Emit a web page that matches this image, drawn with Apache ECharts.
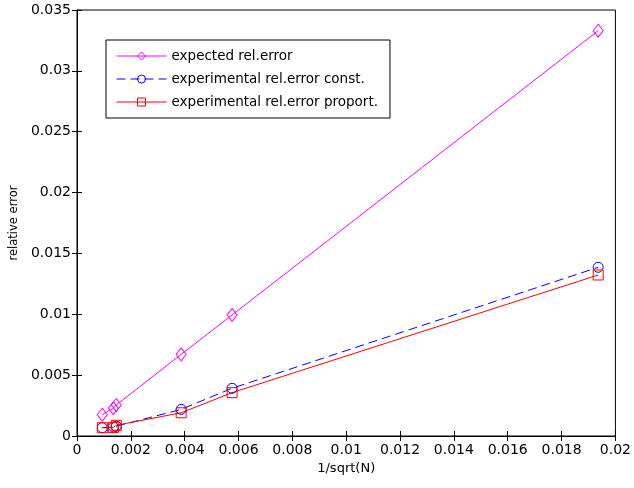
<!DOCTYPE html>
<html>
<head>
<meta charset="utf-8">
<script src="https://cdn.jsdelivr.net/npm/echarts@6/dist/echarts.min.js"></script>
<style>
html,body{margin:0;padding:0;background:#fff;}
#chart{width:634px;height:488px;}
</style>
</head>
<body>
<div id="chart"></div>
<script>
const seriesNames = ['expected rel.error', 'experimental rel.error const.', 'experimental rel.error proport.'];
const seriesColors = ['#ff00ff', '#0000ff', '#ff0000'];
const xValues = [0.00094, 0.00135, 0.00146, 0.00387, 0.00576, 0.01936];
const expectedErr = [0.00175, 0.00228, 0.00255, 0.00671, 0.00994, 0.0333];
const constErr = [0.00068, 0.00074, 0.0008, 0.00219, 0.00392, 0.01386];
const proportErr = [0.00068, 0.0007, 0.00088, 0.00191, 0.00356, 0.01323];

const pairs = ys => xValues.map((x, i) => [x, ys[i]]);
const font = '"DejaVu Sans", sans-serif';
const clear = 'rgba(0,0,0,0)';

const chart = echarts.init(document.getElementById('chart'));
const axisCommon = {
  axisLine: {show: true, lineStyle: {color: '#000', width: 1}},
  axisTick: {show: true, inside: true, length: 5, lineStyle: {color: '#000'}},
  splitLine: {show: false},
  axisLabel: {color: '#000', fontSize: 14, fontFamily: font}
};
chart.setOption({
  animation: false,
  backgroundColor: '#fff',
  grid: {left: 77, right: 16, top: 10, bottom: 52, show: true, backgroundColor: '#fff', borderColor: '#000', borderWidth: 1},
  legend: {
    orient: 'vertical', left: 106, top: 40,
    itemWidth: 50, itemHeight: 10, itemGap: 9,
    padding: [9, 12, 9, 10],
    borderColor: '#000', borderWidth: 1, backgroundColor: '#fff',
    textStyle: {color: '#000', fontSize: 13.5, fontFamily: font},
    data: seriesNames.map((n, i) => ({
      name: n,
      itemStyle: {color: clear, borderColor: seriesColors[i], borderWidth: 1},
      lineStyle: {width: 1, color: seriesColors[i], type: i === 1 ? [9, 5] : 'solid'}
    }))
  },
  xAxis: [
    Object.assign({}, axisCommon, {type: 'value', min: 0, max: 0.02, interval: 0.002, position: 'bottom',
      name: '1/sqrt(N)', nameLocation: 'middle', nameGap: 25,
      nameTextStyle: {color: '#000', fontSize: 13, fontFamily: font},
      axisLabel: Object.assign({}, axisCommon.axisLabel, {margin: 7})}),
    Object.assign({}, axisCommon, {type: 'value', min: 0, max: 0.02, interval: 0.002, position: 'top',
      axisLabel: {show: false}})
  ],
  yAxis: [
    Object.assign({}, axisCommon, {type: 'value', min: 0, max: 0.035, interval: 0.005, position: 'left',
      name: 'relative error', nameLocation: 'middle', nameGap: 57,
      nameTextStyle: {color: '#000', fontSize: 11.5, fontFamily: font},
      axisLabel: Object.assign({}, axisCommon.axisLabel, {margin: 6})}),
    Object.assign({}, axisCommon, {type: 'value', min: 0, max: 0.035, interval: 0.005, position: 'right',
      axisLabel: {show: false}})
  ],
  series: [
    {name: seriesNames[0], type: 'line', data: pairs(expectedErr), symbol: 'diamond', symbolSize: [10, 13],
     lineStyle: {color: seriesColors[0], width: 1}, itemStyle: {color: clear, borderColor: seriesColors[0], borderWidth: 1},
     showAllSymbol: true},
    {name: seriesNames[1], type: 'line', data: pairs(constErr), symbol: 'circle', symbolSize: 10,
     lineStyle: {color: seriesColors[1], width: 1, type: [9, 5]}, itemStyle: {color: clear, borderColor: seriesColors[1], borderWidth: 1},
     showAllSymbol: true},
    {name: seriesNames[2], type: 'line', data: pairs(proportErr), symbol: 'rect', symbolSize: 10,
     lineStyle: {color: seriesColors[2], width: 1}, itemStyle: {color: clear, borderColor: seriesColors[2], borderWidth: 1},
     showAllSymbol: true}
  ]
});
</script>
</body>
</html>
